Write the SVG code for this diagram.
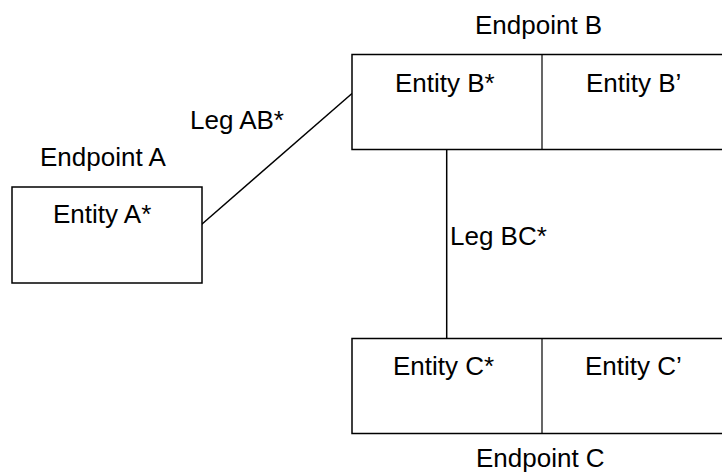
<svg xmlns="http://www.w3.org/2000/svg" width="722" height="473" viewBox="0 0 722 473">
<style>
.box{fill:#fff;stroke:#000;stroke-width:1.5}
.div{stroke:#000;stroke-width:1.2}
.t{font-family:"Liberation Sans",Arial,sans-serif;font-size:26px;fill:#000}
.c{stroke:#000;stroke-width:1.5;fill:none}
</style>
<rect width="722" height="473" fill="#fff"/>
<g id="connectors">
<line class="c" x1="201.5" y1="224.5" x2="352" y2="93.5"/>
<line class="c" x1="446.7" y1="149" x2="446.7" y2="338.5"/>
<text class="t" x="190" y="128.5">Leg AB*</text>
<text class="t" x="450" y="245">Leg BC*</text>
</g>
<g id="endpointA">
<text class="t" x="40" y="166">Endpoint A</text>
<rect class="box" x="12" y="187" width="190" height="96"/>
<text class="t" x="53" y="223">Entity A*</text>
</g>
<g id="endpointB">
<text class="t" x="475" y="33.5">Endpoint B</text>
<rect class="box" x="352" y="54.5" width="380" height="95"/>
<line class="div" x1="542" y1="54.5" x2="542" y2="149.5"/>
<text class="t" x="395" y="91.5">Entity B*</text>
<text class="t" x="586" y="91.5">Entity B’</text>
</g>
<g id="endpointC">
<rect class="box" x="352" y="338.5" width="380" height="95"/>
<line class="div" x1="542" y1="338.5" x2="542" y2="433.5"/>
<text class="t" x="393" y="375">Entity C*</text>
<text class="t" x="585" y="375">Entity C’</text>
<text class="t" x="476" y="466.5">Endpoint C</text>
</g>
</svg>
